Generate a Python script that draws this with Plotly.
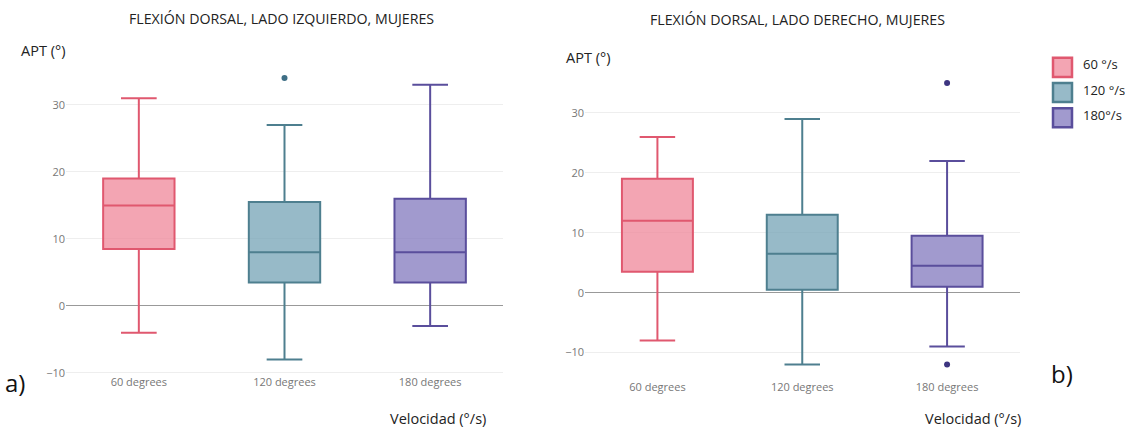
import plotly.graph_objects as go

# Category labels and legend names
categories = ["60 degrees", "120 degrees", "180 degrees"]
legend_names = ["60 °/s", "120 °/s", "180°/s"]

# Left side (lado izquierdo): box statistics per speed
left_lower = [-4, -8, -3]
left_q1 = [8.5, 3.5, 3.5]
left_median = [15, 8, 8]
left_q3 = [19, 15.5, 16]
left_upper = [31, 27, 33]
left_outlier_x = ["120 degrees"]
left_outlier_y = [34]

# Right side (lado derecho): box statistics per speed
right_lower = [-8, -12, -9]
right_q1 = [3.5, 0.5, 1]
right_median = [12, 6.5, 4.5]
right_q3 = [19, 13, 9.5]
right_upper = [26, 29, 22]
right_outlier_x = ["180 degrees", "180 degrees"]
right_outlier_y = [35, -12]

line_colors = ["#e0586f", "#4e7f8f", "#5a4e9c"]
fill_colors = ["rgba(240,140,158,0.78)", "rgba(122,166,185,0.78)", "rgba(134,126,192,0.78)"]
outlier_colors = ["#e0586f", "#3f6f86", "#3d3580"]

W, H = 1125, 429
# vertical reference height used to place items in paper coordinates
H_REF = 421.5


def px_x(x):
    return x / W


def px_y(y):
    return 1 - y / H_REF


fig = go.Figure()

panels = [
    dict(xa="x", ya="y", lower=left_lower, q1=left_q1, med=left_median, q3=left_q3,
         upper=left_upper, ox=left_outlier_x, oy=left_outlier_y, ocolor=outlier_colors[1]),
    dict(xa="x2", ya="y2", lower=right_lower, q1=right_q1, med=right_median, q3=right_q3,
         upper=right_upper, ox=right_outlier_x, oy=right_outlier_y, ocolor=outlier_colors[2]),
]

for p in panels:
    for i, cat in enumerate(categories):
        fig.add_trace(go.Box(
            x=[cat], q1=[p["q1"][i]], median=[p["med"][i]], q3=[p["q3"][i]],
            lowerfence=[p["lower"][i]], upperfence=[p["upper"][i]],
            width=0.49, whiskerwidth=0.5,
            line=dict(color=line_colors[i], width=2),
            fillcolor=fill_colors[i],
            xaxis=p["xa"], yaxis=p["ya"], showlegend=False, boxpoints=False,
        ))
    fig.add_trace(go.Scatter(
        x=p["ox"], y=p["oy"], mode="markers",
        marker=dict(color=p["ocolor"], size=6),
        xaxis=p["xa"], yaxis=p["ya"], showlegend=False,
    ))

tick_font = dict(family="Open Sans", size=11, color="#777777")
grid = "#eeeeee"

fig.update_layout(
    width=W, height=H, autosize=False,
    margin=dict(l=0, r=0, t=0, b=0),
    paper_bgcolor="white", plot_bgcolor="white",
    boxmode="overlay",
    showlegend=False,
    xaxis=dict(domain=[px_x(66), px_x(503)], type="category", categoryorder="array",
               categoryarray=categories, range=[-0.5, 2.5], showgrid=False,
               showline=False, zeroline=False, tickfont=tick_font, ticks=""),
    yaxis=dict(domain=[px_y(372), px_y(65)], range=[-10.2, 35.9], dtick=10,
               gridcolor=grid, gridwidth=1, zeroline=True, zerolinecolor="#999999",
               zerolinewidth=1, tickfont=tick_font, ticks="", showline=False),
    xaxis2=dict(domain=[px_x(585), px_x(1019.5)], type="category", categoryorder="array",
                categoryarray=categories, range=[-0.5, 2.5], showgrid=False,
                showline=False, zeroline=False, tickfont=tick_font, ticks="",
                anchor="y2"),
    yaxis2=dict(domain=[px_y(377), px_y(70)], range=[-14.45, 37.1], dtick=10,
                gridcolor=grid, gridwidth=1, zeroline=True, zerolinecolor="#999999",
                zerolinewidth=1, tickfont=tick_font, ticks="", showline=False,
                anchor="x2"),
)

title_font = dict(family="Open Sans", size=14.2, color="#222222")
label_font = dict(family="Open Sans", size=14.5, color="#222222")
tag_font = dict(family="Open Sans", size=24, color="#111111")

annotations = [
    dict(text="FLEXIÓN DORSAL, LADO IZQUIERDO, MUJERES", x=px_x(281), y=px_y(18),
         xanchor="center", font=title_font),
    dict(text="FLEXIÓN DORSAL, LADO DERECHO, MUJERES", x=px_x(797), y=px_y(19),
         xanchor="center", font=title_font),
    dict(text="APT (°)", x=px_x(19), y=px_y(50), xanchor="left", font=label_font),
    dict(text="APT (°)", x=px_x(564), y=px_y(57), xanchor="left", font=label_font),
    dict(text="Velocidad (°/s)", x=px_x(488), y=px_y(416), xanchor="right", font=label_font),
    dict(text="Velocidad (°/s)", x=px_x(1023), y=px_y(416), xanchor="right", font=label_font),
    dict(text="a)", x=px_x(3), y=px_y(380), xanchor="left", font=tag_font),
    dict(text="b)", x=px_x(1049), y=px_y(371), xanchor="left", font=tag_font),
]

# Legend drawn as swatches with labels
legend_centers = [67, 92, 117]
shapes = []
for i, name in enumerate(legend_names):
    cy = legend_centers[i]
    shapes.append(dict(type="rect", xref="paper", yref="paper",
                       x0=px_x(1053), x1=px_x(1072), y0=px_y(cy + 9.5), y1=px_y(cy - 9.5),
                       line=dict(color=line_colors[i], width=2.5), fillcolor=fill_colors[i]))
    annotations.append(dict(text=name, x=px_x(1081), y=px_y(cy - 3), xanchor="left",
                            font=dict(family="Open Sans", size=13, color="#222222")))

for a in annotations:
    a.setdefault("xref", "paper")
    a.setdefault("yref", "paper")
    a.setdefault("showarrow", False)
    a.setdefault("yanchor", "middle")

fig.update_layout(annotations=annotations, shapes=shapes)

fig.write_html("out.html")
